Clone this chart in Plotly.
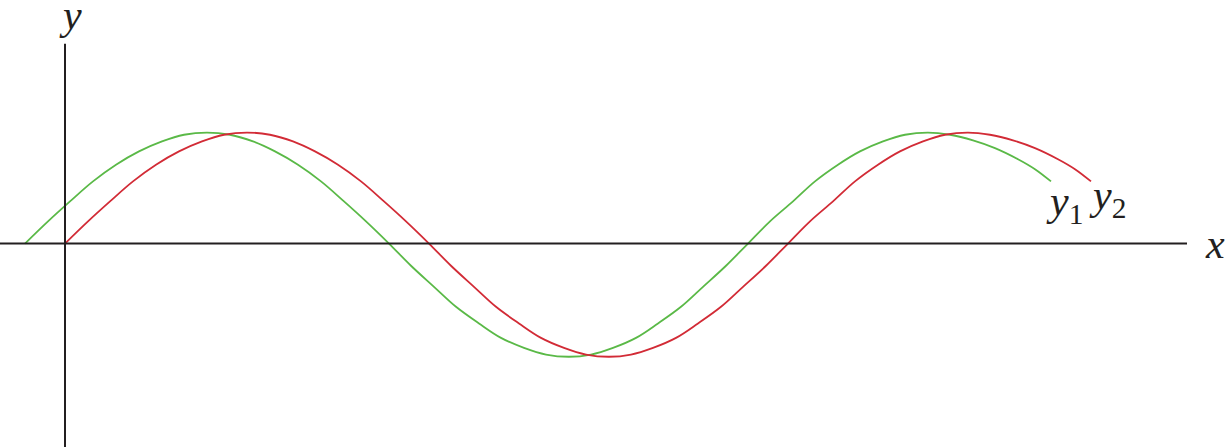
import plotly.graph_objects as go

# values (x in 100 px units from the y axis, y in amplitude units)
y2_x = [0.00, 0.23, 0.45, 0.68, 0.91, 1.14, 1.37, 1.59, 1.82, 2.05, 2.28, 2.50, 2.73, 2.96, 3.19, 3.41,
        3.64, 3.86, 4.09, 4.31, 4.54, 4.76, 4.99, 5.21, 5.44, 5.66, 5.88, 6.11, 6.33, 6.56, 6.78, 7.01,
        7.23, 7.45, 7.68, 7.90, 8.13, 8.35, 8.58, 8.80, 9.03, 9.25, 9.48, 9.70, 9.93, 10.10, 10.26]
y2_y = [0.00, 0.20, 0.38, 0.56, 0.71, 0.83, 0.92, 0.98, 1.00, 0.98, 0.92, 0.83, 0.71, 0.56, 0.38, 0.20,
        0.00, -0.20, -0.39, -0.57, -0.72, -0.85, -0.94, -1.00, -1.02, -1.00, -0.94, -0.85, -0.72, -0.57, -0.39, -0.20,
        0.00, 0.20, 0.38, 0.56, 0.71, 0.83, 0.92, 0.98, 1.00, 0.98, 0.93, 0.86, 0.76, 0.67, 0.56]

y1_x = [-0.40, -0.17, 0.05, 0.28, 0.51, 0.74, 0.97, 1.19, 1.42, 1.65, 1.88, 2.10, 2.33, 2.56, 2.79, 3.01,
        3.24, 3.46, 3.69, 3.91, 4.14, 4.36, 4.59, 4.81, 5.04, 5.26, 5.48, 5.71, 5.93, 6.16, 6.38, 6.61,
        6.83, 7.05, 7.28, 7.50, 7.73, 7.95, 8.18, 8.40, 8.63, 8.85, 9.08, 9.30, 9.53, 9.70, 9.86]
y1_y = [0.00, 0.20, 0.38, 0.56, 0.71, 0.83, 0.92, 0.98, 1.00, 0.98, 0.92, 0.83, 0.71, 0.56, 0.38, 0.20,
        0.00, -0.20, -0.39, -0.57, -0.72, -0.85, -0.94, -1.00, -1.02, -1.00, -0.94, -0.85, -0.72, -0.57, -0.39, -0.20,
        0.00, 0.20, 0.38, 0.56, 0.71, 0.83, 0.92, 0.98, 1.00, 0.98, 0.93, 0.86, 0.76, 0.67, 0.56]

curve_labels = ["<i>y</i><sub>1</sub>", "<i>y</i><sub>2</sub>"]
axis_labels = ["<i>x</i>", "<i>y</i>"]

green = "#5ab947"
red = "#d22b36"
ink = "#231f20"
serif = "Liberation Serif"

fig = go.Figure()

# axes drawn as plain lines
fig.add_shape(type="line", x0=-0.66, x1=11.22, y0=0, y1=0, line=dict(color=ink, width=2))
fig.add_shape(type="line", x0=0, x1=0, y0=-1.85, y1=1.80, line=dict(color=ink, width=2))

fig.add_trace(go.Scatter(x=y1_x, y=y1_y, mode="lines",
                         line=dict(color=green, width=1.8, shape="spline"),
                         showlegend=False, hoverinfo="skip"))
fig.add_trace(go.Scatter(x=y2_x, y=y2_y, mode="lines",
                         line=dict(color=red, width=1.8, shape="spline"),
                         showlegend=False, hoverinfo="skip"))

fnt = dict(family=serif, size=42, color=ink)
fig.add_annotation(x=11.50, y=0.0, text=axis_labels[0], showarrow=False, font=fnt,
                   xanchor="center", yanchor="middle")
fig.add_annotation(x=0.05, y=2.06, text=axis_labels[1], showarrow=False, font=fnt,
                   xanchor="center", yanchor="middle")
fig.add_annotation(x=9.99, y=0.36, text=curve_labels[0], showarrow=False, font=fnt,
                   xanchor="center", yanchor="middle")
fig.add_annotation(x=10.42, y=0.41, text=curve_labels[1], showarrow=False, font=fnt,
                   xanchor="center", yanchor="middle")

fig.update_xaxes(range=[-0.65, 11.63], visible=False, showgrid=False, zeroline=False)
fig.update_yaxes(range=[-1.833, 2.194], visible=False, showgrid=False, zeroline=False)

fig.update_layout(width=1228, height=447, margin=dict(l=0, r=0, t=0, b=0),
                  paper_bgcolor="white", plot_bgcolor="white")

# drop the page's default body margin so the figure fills the window
fig.write_html("out.html", config={"displayModeBar": False},
               post_script="document.body.style.margin='0';")
